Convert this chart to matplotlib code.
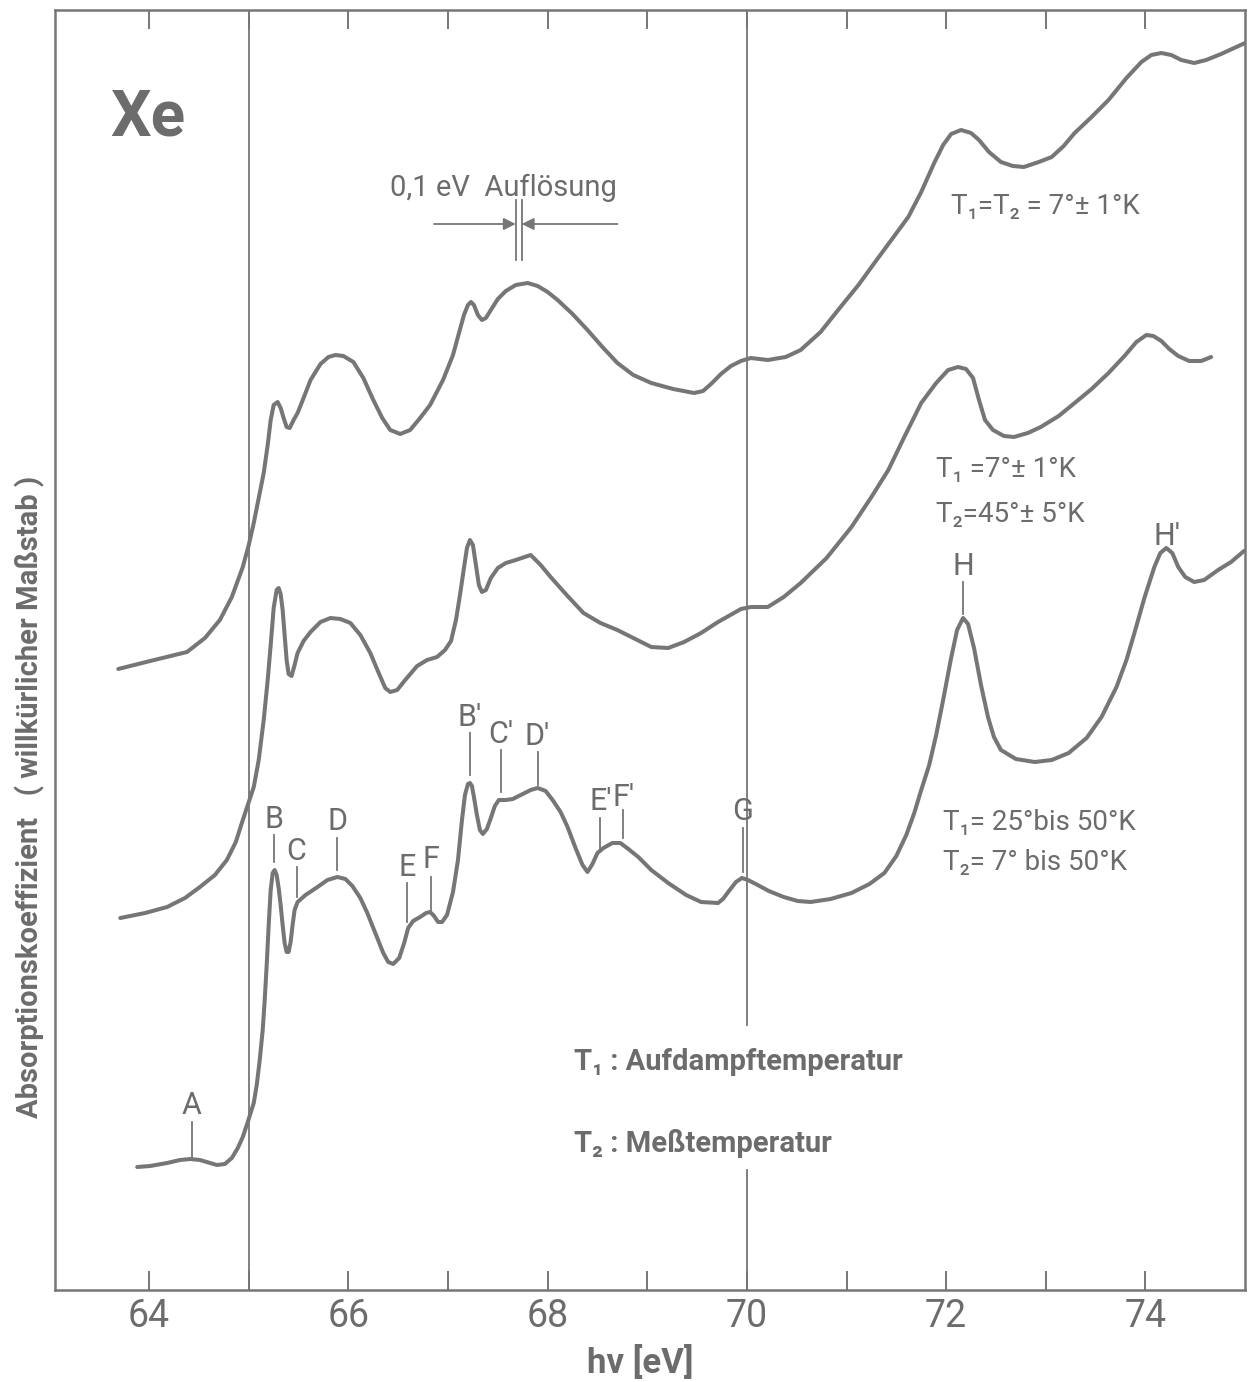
"""Xe 4d absorption spectrum for three sample temperatures (redrawn from a scanned figure)."""

import matplotlib
matplotlib.use("Agg")
import matplotlib.pyplot as plt  # noqa: E402

INK = "#767676"
TEXT = "#6c6c6c"
FONT = ["Liberation Sans Narrow", "Roboto", "DejaVu Sans"]

plt.rcParams["font.family"] = FONT

# (photon energy in eV, absorption in arbitrary units)
# top curve: T1 = T2 = 7 +- 1 K
TOP = [(63.69, 6.21), (64.01, 6.29), (64.38, 6.38), (64.56, 6.52), (64.71, 6.70),
       (64.83, 6.93), (64.94, 7.23), (65.00, 7.45), (65.05, 7.67), (65.10, 7.92),
       (65.15, 8.17), (65.19, 8.45), (65.22, 8.70), (65.25, 8.85), (65.29, 8.88),
       (65.32, 8.82), (65.35, 8.72), (65.38, 8.63), (65.41, 8.62), (65.45, 8.70),
       (65.49, 8.77), (65.55, 8.92), (65.62, 9.10), (65.72, 9.26), (65.80, 9.33),
       (65.87, 9.35), (65.95, 9.34), (66.05, 9.28), (66.15, 9.12), (66.25, 8.90),
       (66.34, 8.72), (66.42, 8.60), (66.52, 8.56), (66.62, 8.60), (66.72, 8.72),
       (66.82, 8.85), (66.95, 9.10), (67.05, 9.35), (67.11, 9.57), (67.16, 9.75),
       (67.20, 9.85), (67.23, 9.88), (67.26, 9.85), (67.30, 9.75), (67.34, 9.70),
       (67.38, 9.72), (67.43, 9.80), (67.50, 9.91), (67.58, 9.99), (67.68, 10.05),
       (67.80, 10.07), (67.90, 10.04), (68.00, 9.98), (68.10, 9.90), (68.25, 9.76),
       (68.40, 9.60), (68.55, 9.43), (68.70, 9.27), (68.86, 9.15), (69.04, 9.07),
       (69.26, 9.01), (69.47, 8.97), (69.56, 8.99), (69.64, 9.06), (69.74, 9.16),
       (69.84, 9.24), (69.94, 9.29), (70.04, 9.32), (70.21, 9.30), (70.39, 9.33),
       (70.54, 9.40), (70.74, 9.58), (70.94, 9.83), (71.12, 10.05), (71.28, 10.27),
       (71.45, 10.50), (71.62, 10.73), (71.75, 10.98), (71.88, 11.27), (71.97, 11.45),
       (72.05, 11.56), (72.15, 11.60), (72.25, 11.57), (72.33, 11.50), (72.43, 11.38),
       (72.55, 11.28), (72.67, 11.24), (72.78, 11.23), (72.93, 11.28), (73.06, 11.33),
       (73.18, 11.44), (73.29, 11.57), (73.46, 11.73), (73.63, 11.90), (73.81, 12.12),
       (73.96, 12.28), (74.06, 12.35), (74.16, 12.37), (74.26, 12.35), (74.36, 12.30),
       (74.49, 12.27), (74.61, 12.30), (74.76, 12.36), (75.00, 12.47)]

# middle curve: T1 = 7 +- 1 K, T2 = 45 +- 5 K
MID = [(63.71, 3.72), (63.96, 3.77), (64.18, 3.83), (64.36, 3.92), (64.51, 4.03),
       (64.66, 4.15), (64.78, 4.30), (64.87, 4.48), (64.94, 4.70), (65.00, 4.88),
       (65.05, 5.03), (65.10, 5.30), (65.15, 5.70), (65.19, 6.10), (65.22, 6.45),
       (65.25, 6.82), (65.28, 7.00), (65.30, 7.02), (65.32, 6.96), (65.34, 6.80),
       (65.36, 6.55), (65.38, 6.30), (65.40, 6.16), (65.43, 6.14), (65.46, 6.25),
       (65.49, 6.37), (65.55, 6.49), (65.62, 6.58), (65.72, 6.68), (65.82, 6.72),
       (65.92, 6.71), (66.02, 6.67), (66.12, 6.55), (66.22, 6.37), (66.30, 6.18),
       (66.37, 6.02), (66.42, 5.98), (66.49, 6.00), (66.57, 6.10), (66.69, 6.24),
       (66.79, 6.30), (66.89, 6.33), (66.97, 6.40), (67.03, 6.49), (67.08, 6.70),
       (67.12, 6.95), (67.16, 7.22), (67.19, 7.42), (67.22, 7.50), (67.25, 7.45),
       (67.28, 7.25), (67.31, 7.05), (67.34, 6.98), (67.38, 7.00), (67.43, 7.12),
       (67.50, 7.22), (67.58, 7.27), (67.68, 7.30), (67.83, 7.35), (67.93, 7.25),
       (68.03, 7.13), (68.20, 6.94), (68.36, 6.77), (68.53, 6.67), (68.70, 6.60),
       (68.86, 6.52), (69.04, 6.43), (69.21, 6.42), (69.37, 6.48), (69.54, 6.57),
       (69.71, 6.68), (69.87, 6.77), (69.94, 6.81), (70.04, 6.83), (70.21, 6.83),
       (70.37, 6.93), (70.54, 7.07), (70.80, 7.32), (71.05, 7.63), (71.25, 7.93),
       (71.42, 8.20), (71.58, 8.53), (71.75, 8.87), (71.90, 9.07), (72.02, 9.20),
       (72.12, 9.23), (72.20, 9.21), (72.27, 9.12), (72.33, 8.90), (72.39, 8.70),
       (72.47, 8.60), (72.58, 8.54), (72.68, 8.53), (72.82, 8.57), (72.95, 8.63),
       (73.13, 8.74), (73.29, 8.87), (73.46, 9.01), (73.63, 9.17), (73.79, 9.34),
       (73.91, 9.48), (74.01, 9.55), (74.08, 9.54), (74.16, 9.49), (74.24, 9.41),
       (74.33, 9.34), (74.44, 9.29), (74.56, 9.29), (74.66, 9.33)]

# bottom curve: T1 = 25 to 50 K, T2 = 7 to 50 K
BOT = [(63.88, 1.23), (64.01, 1.24), (64.18, 1.27), (64.31, 1.30), (64.41, 1.31),
       (64.51, 1.30), (64.61, 1.27), (64.68, 1.25), (64.76, 1.26), (64.83, 1.32),
       (64.89, 1.42), (64.94, 1.53), (64.99, 1.68), (65.05, 1.87), (65.08, 2.05),
       (65.11, 2.30), (65.14, 2.60), (65.16, 2.90), (65.18, 3.25), (65.20, 3.65),
       (65.22, 4.00), (65.24, 4.17), (65.26, 4.20), (65.28, 4.15), (65.30, 4.02),
       (65.32, 3.85), (65.34, 3.65), (65.36, 3.47), (65.38, 3.38), (65.40, 3.38),
       (65.42, 3.48), (65.44, 3.65), (65.46, 3.80), (65.49, 3.88), (65.57, 3.95),
       (65.69, 4.03), (65.79, 4.10), (65.89, 4.13), (65.97, 4.11), (66.04, 4.04),
       (66.12, 3.92), (66.19, 3.77), (66.27, 3.57), (66.35, 3.37), (66.40, 3.28),
       (66.45, 3.26), (66.51, 3.32), (66.56, 3.47), (66.60, 3.62), (66.65, 3.69),
       (66.72, 3.73), (66.78, 3.77), (66.82, 3.78), (66.86, 3.74), (66.90, 3.68),
       (66.94, 3.68), (66.99, 3.75), (67.05, 3.98), (67.10, 4.30), (67.14, 4.70),
       (67.17, 4.95), (67.20, 5.06), (67.22, 5.07), (67.24, 5.04), (67.26, 4.93),
       (67.29, 4.75), (67.32, 4.60), (67.35, 4.56), (67.39, 4.61), (67.43, 4.72),
       (67.47, 4.84), (67.51, 4.90), (67.58, 4.90), (67.65, 4.91), (67.73, 4.95),
       (67.83, 5.00), (67.90, 5.02), (67.98, 4.99), (68.05, 4.90), (68.13, 4.78),
       (68.20, 4.63), (68.28, 4.42), (68.35, 4.25), (68.40, 4.18), (68.45, 4.26),
       (68.50, 4.37), (68.56, 4.42), (68.65, 4.47), (68.73, 4.47), (68.81, 4.41),
       (68.91, 4.33), (69.04, 4.20), (69.21, 4.07), (69.39, 3.95), (69.54, 3.88),
       (69.71, 3.87), (69.76, 3.91), (69.82, 3.99), (69.89, 4.08), (69.95, 4.12),
       (70.01, 4.10), (70.09, 4.06), (70.22, 3.99), (70.37, 3.93), (70.51, 3.89),
       (70.64, 3.88), (70.84, 3.91), (71.05, 3.97), (71.23, 4.06), (71.38, 4.17),
       (71.50, 4.34), (71.60, 4.55), (71.68, 4.77), (71.75, 5.00), (71.83, 5.25),
       (71.90, 5.55), (71.97, 5.90), (72.05, 6.32), (72.11, 6.60), (72.17, 6.72),
       (72.22, 6.66), (72.28, 6.42), (72.35, 6.05), (72.42, 5.73), (72.48, 5.53),
       (72.55, 5.40), (72.70, 5.31), (72.89, 5.28), (73.06, 5.30), (73.23, 5.37),
       (73.41, 5.52), (73.56, 5.73), (73.71, 6.03), (73.81, 6.30), (73.89, 6.57),
       (73.99, 6.92), (74.09, 7.23), (74.15, 7.37), (74.21, 7.42), (74.27, 7.37),
       (74.33, 7.23), (74.40, 7.13), (74.49, 7.08), (74.59, 7.10), (74.73, 7.20),
       (74.86, 7.28), (74.99, 7.39)]

# structure labels on the bottom curve: energy, marker line bottom/top, letter baseline
PEAK_NAMES = ["A", "B", "C", "D", "E", "F", "B'", "C'", "D'", "E'", "F'", "G", "H", "H'"]
PEAK_E = [64.43, 65.25, 65.48, 65.89, 66.59, 66.83, 67.22, 67.53, 67.90, 68.53,
          68.76, 69.96, 72.17, 74.22]
PEAK_LO = [1.33, 4.28, 3.93, 4.20, 3.68, 3.80, 5.15, 4.98, 5.05, 4.40, 4.52, 4.18, 6.76, None]
PEAK_HI = [1.68, 4.55, 4.23, 4.52, 4.07, 4.13, 5.57, 5.40, 5.38, 4.72, 4.80, 4.62, 7.08, None]
PEAK_TXT = [1.76, 4.62, 4.30, 4.60, 4.14, 4.22, 5.64, 5.47, 5.45, 4.80, 4.84, 4.70, 7.15, 7.45]

fig = plt.figure(figsize=(12.48, 13.82), dpi=100)
ax = fig.add_axes([55 / 1248, 1 - 1290 / 1382, 1190 / 1248, 1280 / 1382])

for curve in (TOP, MID, BOT):
    e, a = zip(*curve)
    ax.plot(e, a, color=INK, lw=2.9, solid_joinstyle="round", solid_capstyle="round", zorder=3)

# reference lines at 65 and 70 eV (the 70 eV one stops behind the legend text)
ax.axvline(65, color=INK, lw=1.3, zorder=2)
ax.axvline(70, ymin=0, ymax=0.094, color=INK, lw=1.3, zorder=2)
ax.axvline(70, ymin=0.207, ymax=1, color=INK, lw=1.3, zorder=2)

for name, e, lo, hi, ty in zip(PEAK_NAMES, PEAK_E, PEAK_LO, PEAK_HI, PEAK_TXT):
    if lo is not None:
        ax.plot([e, e], [lo, hi], color=INK, lw=1.3, zorder=2)
    ax.text(e, ty, name, ha="center", va="baseline", fontsize=22, color=TEXT)

# resolution marker
res_l, res_r, res_y = 67.68, 67.74, 10.66
ax.plot([res_l, res_l], [10.30, 10.90], color=INK, lw=1.3)
ax.plot([res_r, res_r], [10.30, 10.90], color=INK, lw=1.3)
arrow = dict(arrowstyle="-|>", color=INK, lw=1.3, mutation_scale=18, shrinkA=0, shrinkB=0)
ax.annotate("", xy=(res_l, res_y), xytext=(66.86, res_y), arrowprops=arrow)
ax.annotate("", xy=(res_r, res_y), xytext=(68.70, res_y), arrowprops=arrow)
ax.text(66.42, 10.94, "0,1 eV  Auflösung", fontsize=21, color=TEXT, va="baseline")

ax.text(63.99, 11.72, "Xe", fontsize=46, fontweight="bold", color=TEXT,
        ha="center", va="center")

ax.text(72.05, 10.76, "T₁=T₂ = 7°± 1°K", fontsize=20, color=TEXT, va="baseline")
ax.text(71.90, 8.13, "T₁ =7°± 1°K", fontsize=20, color=TEXT, va="baseline")
ax.text(71.90, 7.68, "T₂=45°± 5°K", fontsize=20, color=TEXT, va="baseline")
ax.text(71.97, 4.60, "T₁= 25°bis 50°K", fontsize=20, color=TEXT, va="baseline")
ax.text(71.97, 4.20, "T₂= 7° bis 50°K", fontsize=20, color=TEXT, va="baseline")
ax.text(68.26, 2.20, "T₁ : Aufdampftemperatur", fontsize=21, fontweight="bold",
        color=TEXT, va="baseline")
ax.text(68.26, 1.38, "T₂ : Meßtemperatur", fontsize=21, fontweight="bold",
        color=TEXT, va="baseline")

# axes
ax.set_xlim(63.055, 75.0)
ax.set_ylim(0, 12.8)
ax.set_xticks(range(64, 75, 2))
ax.set_xticks(range(65, 75, 2), minor=True)
ax.set_yticks([])
ax.tick_params(which="both", direction="in", length=14, width=1.4, color=INK,
               top=True, bottom=True, left=False, right=False)
ax.tick_params(axis="x", labelsize=27, labelcolor=TEXT, pad=6)
for spine in ax.spines.values():
    spine.set_color(INK)
    spine.set_linewidth(1.8)

fig.text(640 / 1248, 1 - 1362 / 1382, "hν [eV]", ha="center", va="center",
         fontsize=25, fontweight="bold", color=TEXT)
fig.text(30 / 1248, 1 - 797 / 1382, "Absorptionskoeffizient   ( willkürlicher Maßstab )",
         rotation=90, ha="center", va="center", fontsize=21, fontweight="bold", color=TEXT)

fig.savefig("out.png", dpi=100, facecolor="white")
